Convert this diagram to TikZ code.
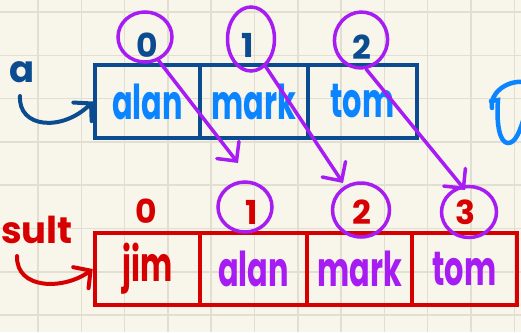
\documentclass[tikz,border=0pt]{standalone}
\usepackage{fontspec}
\usepackage{graphicx}
\setmainfont{Poppins}
\usetikzlibrary{arrows.meta,shapes.geometric}
\definecolor{bg}{HTML}{F8F5EA}
\definecolor{gridc}{HTML}{E2DFD2}
\definecolor{dblue}{HTML}{0B4C91}
\definecolor{bblue}{HTML}{0A84FF}
\definecolor{purp}{HTML}{A61CF2}
\definecolor{redc}{HTML}{D60000}
\newcommand\tall[1]{\scalebox{0.95}[1.5]{#1}}
\begin{document}
\begin{tikzpicture}[x=1pt,y=-1pt,
  gridline/.style={draw=gridc,line width=1.5pt},
  topcell/.style={draw=dblue,line width=4pt,minimum height=73pt,inner sep=0pt,text=bblue,font=\fontsize{32}{32}\selectfont\bfseries},
  botcell/.style={draw=redc,line width=4.5pt,minimum height=72pt,inner sep=0pt,text=purp,font=\fontsize{32}{32}\selectfont\bfseries},
  idx/.style={inner sep=0pt,font=\fontsize{33}{33}\selectfont\bfseries},
  ring/.style={draw=purp,line width=3.5pt,ellipse,inner sep=0pt},
  parrow/.style={draw=purp,line width=3.5pt,line cap=round,-{Straight Barb[length=14pt,width=28pt,line cap=round]}},
  curvearrow/.style={line width=4pt,line cap=round,-{Straight Barb[length=12pt,width=26pt,line cap=round]}},
  lbl/.style={inner sep=0pt,font=\fontsize{37}{37}\selectfont\bfseries}
]
\useasboundingbox (0,0) rectangle (521,332);
\clip (0,0) rectangle (521,332);
\fill[bg] (0,0) rectangle (521,332);
\foreach \k in {0,...,11} \draw[gridline] ({38+43.3*\k},0) -- ++(0,332);
\foreach \k in {0,...,7} \draw[gridline] (0,{12+43.3*\k}) -- ++(521,0);

% top array
\node[topcell,minimum width=105pt] (a0) at (147.5,101.5) {\tall{alan}};
\node[topcell,minimum width=108pt] (a1) at (254,101.5) {\tall{mark}};
\node[topcell,minimum width=109pt] (a2) at (362.5,101.5) {\tall{tom}};

% bottom array
\node[botcell,minimum width=105pt,text=redc] (b0) at (147.5,269) {\tall{jim}};
\node[botcell,minimum width=107pt] (b1) at (253.5,269) {\tall{alan}};
\node[botcell,minimum width=105pt] (b2) at (359.5,269) {\tall{mark}};
\node[botcell,minimum width=105pt] (b3) at (464.5,269) {\tall{tom}};

% top indices
\node[idx,text=dblue] (t0) at (147,45) {0};
\node[idx,text=dblue] (t1) at (248,45) {1};
\node[idx,text=dblue] (t2) at (362,47) {2};
\node[ring,minimum width=54pt,minimum height=50pt] (c0) at (145,37) {};
\node[ring,minimum width=47pt,minimum height=64pt] (c1) at (251,39) {};
\node[ring,minimum width=53pt,minimum height=56pt,rotate=-10] (c2) at (361,40) {};

% bottom indices
\node[idx,text=redc] (u0) at (146.5,211) {0};
\node[idx,text=redc] (u1) at (252,212) {1};
\node[idx,text=redc] (u2) at (362,212) {2};
\node[idx,text=redc] (u3) at (465,212) {3};
\node[ring,minimum width=54pt,minimum height=50pt] (d1) at (245,207) {};
\node[ring,minimum width=57pt,minimum height=54pt] (d2) at (361,210) {};
\node[ring,minimum width=55pt,minimum height=51pt] (d3) at (469,212) {};

% purple mapping arrows
\coordinate (e1) at (238,163);
\coordinate (e2) at (343,183);
\coordinate (e3) at (465,190);
\draw[parrow] (c0.-60) -- (e1);
\draw[parrow] (c1.-62) -- (e2);
\draw[parrow] (c2.-70) -- (e3);

% labels
\node[lbl,text=dblue] (la) at (22,72) {a};
\node[lbl,text=redc,anchor=base west] (ls) at (1,243) {sult};
\coordinate (as) at (20,96);
\coordinate (rs) at (17,256);
\draw[curvearrow,draw=dblue] (as) .. controls (18,128) and (62,132) .. (a0.west);
\draw[curvearrow,draw=redc] (rs) .. controls (16,290) and (64,290) .. (b0.west);

% partial letter at right edge
\draw[bblue,line width=4.5pt,line cap=round] (492,108) .. controls (489,95) and (505,80) .. (524,82);
\draw[bblue,line width=4.5pt,line cap=round] (491,101) -- (498,100) .. controls (496,125) and (500,143) .. (508,143) .. controls (516,143) and (520,130) .. (524,118);
\end{tikzpicture}
\end{document}
